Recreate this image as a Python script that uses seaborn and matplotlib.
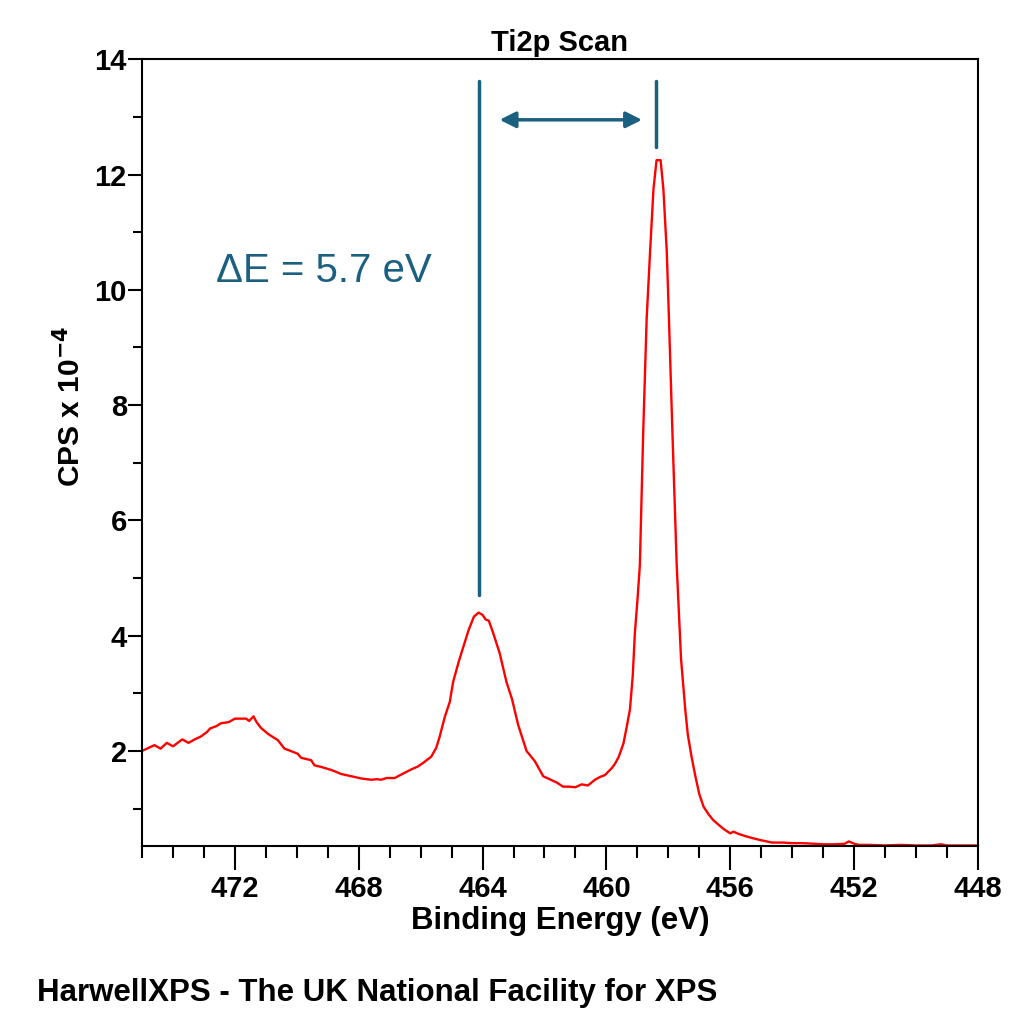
import matplotlib
matplotlib.use('Agg')
import matplotlib.pyplot as plt
import seaborn as sns
import pandas as pd
from matplotlib.ticker import MultipleLocator

# ----------------------
# Ti2p spectrum (binding energy in eV, CPS x 10^-4)
binding_energy = [
    475.0, 474.8, 474.6, 474.4, 474.2, 474.0, 473.8, 473.7, 473.5, 473.3,
    473.1, 472.9, 472.8, 472.6, 472.45, 472.2, 472.0, 471.8, 471.64, 471.54,
    471.4, 471.3, 471.16, 470.94, 470.8, 470.62, 470.4, 470.2, 469.97, 469.86,
    469.7, 469.54, 469.43, 469.2, 468.89, 468.7, 468.57, 468.4, 468.14, 467.9,
    467.6, 467.4, 467.28, 467.1, 466.84, 466.7, 466.52, 466.3, 466.09, 465.9,
    465.66, 465.5, 465.39, 465.22, 465.06, 464.95, 464.77, 464.6, 464.45, 464.28,
    464.13, 464.0, 463.9, 463.8, 463.66, 463.45, 463.23, 463.05, 462.85, 462.58,
    462.31, 462.04, 461.8, 461.6, 461.4, 461.2, 461.0, 460.8, 460.6, 460.37,
    460.2, 460.05, 459.83, 459.72, 459.6, 459.45, 459.35, 459.24, 459.15, 459.08,
    459.0, 458.92, 458.81, 458.7, 458.59, 458.48, 458.38, 458.25, 458.16, 458.05,
    457.98, 457.87, 457.73, 457.59, 457.45, 457.37, 457.25, 457.13, 457.0, 456.86,
    456.7, 456.55, 456.38, 456.2, 456.0, 455.9, 455.73, 455.5, 455.3, 455.0,
    454.65, 454.3, 454.0, 453.7, 453.3, 453.0, 452.6, 452.3, 452.17, 452.0,
    451.85, 451.5, 451.0, 450.5, 450.0, 449.5, 449.2, 449.0, 448.5, 448.0,
]
cps = [
    2.00, 2.05, 2.10, 2.04, 2.14, 2.08, 2.16, 2.20, 2.14, 2.20,
    2.25, 2.33, 2.39, 2.43, 2.48, 2.50, 2.56, 2.56, 2.56, 2.52,
    2.60, 2.50, 2.40, 2.30, 2.25, 2.19, 2.04, 2.00, 1.95, 1.88,
    1.86, 1.84, 1.75, 1.72, 1.67, 1.63, 1.60, 1.58, 1.55, 1.52,
    1.50, 1.51, 1.50, 1.53, 1.53, 1.57, 1.62, 1.68, 1.73, 1.80,
    1.90, 2.05, 2.24, 2.59, 2.85, 3.20, 3.55, 3.84, 4.10, 4.33,
    4.40, 4.36, 4.28, 4.26, 4.05, 3.70, 3.20, 2.90, 2.45, 2.00,
    1.82, 1.56, 1.50, 1.45, 1.38, 1.38, 1.37, 1.42, 1.40, 1.50,
    1.55, 1.58, 1.70, 1.78, 1.90, 2.13, 2.40, 2.72, 3.30, 4.05,
    4.60, 5.22, 7.56, 9.50, 10.66, 11.75, 12.25, 12.25, 11.75, 10.66,
    9.50, 7.56, 5.23, 3.60, 2.70, 2.28, 1.90, 1.57, 1.25, 1.03,
    0.90, 0.80, 0.72, 0.64, 0.57, 0.60, 0.56, 0.52, 0.49, 0.45,
    0.41, 0.41, 0.40, 0.40, 0.39, 0.38, 0.38, 0.39, 0.43, 0.39,
    0.37, 0.37, 0.36, 0.37, 0.36, 0.36, 0.38, 0.36, 0.36, 0.36,
]

# peak markers (eV) and the spin-orbit splitting label
peak_2p12 = 464.13
peak_2p32 = 458.41
delta_label = '\u0394E = 5.7 eV'

df = pd.DataFrame({'be': binding_energy, 'cps': cps})

# ----------------------
sns.set_style('ticks')
plt.rcParams['font.family'] = ['Liberation Sans', 'DejaVu Sans']
plt.rcParams['mathtext.default'] = 'bf'
for key in ['text.color', 'axes.labelcolor', 'xtick.color', 'ytick.color', 'axes.edgecolor']:
    plt.rcParams[key] = 'black'

blue = '#1b6080'

fig = plt.figure(figsize=(10.24, 10.24), dpi=100)
ax = fig.add_axes([0.1387, 0.1738, 0.8163, 0.7683])

sns.lineplot(data=df, x='be', y='cps', color='#ff0000', linewidth=1.7,
             estimator=None, sort=False, ax=ax)

ax.set_xlim(475, 448)
ax.set_ylim(0.35, 14)

ax.xaxis.set_major_locator(MultipleLocator(4))
ax.xaxis.set_minor_locator(MultipleLocator(1))
ax.yaxis.set_major_locator(MultipleLocator(2))
ax.yaxis.set_minor_locator(MultipleLocator(1))
ax.set_yticks([2, 4, 6, 8, 10, 12, 14])

ax.tick_params(axis='x', which='major', direction='out', length=17, width=1.5,
               labelsize=21, pad=4)
ax.tick_params(axis='x', which='minor', direction='out', length=8.5, width=1.5)
ax.tick_params(axis='y', which='major', direction='out', length=10, width=1.5,
               labelsize=21, pad=1)
ax.tick_params(axis='y', which='minor', direction='out', length=6.5, width=1.5)
for lab in ax.get_xticklabels() + ax.get_yticklabels():
    lab.set_fontweight('bold')

for s in ax.spines.values():
    s.set_visible(True)
    s.set_color('black')
    s.set_linewidth(1.5)

ax.set_xlabel('Binding Energy (eV)', fontsize=22.5, fontweight='bold', labelpad=2)
ax.set_ylabel('CPS x 10$^{-4}$', fontsize=21.5, fontweight='bold')
ax.yaxis.set_label_coords(-0.066, 0.559)
ax.set_title('Ti2p Scan', fontsize=21, fontweight='bold', pad=6)

# peak lines and splitting arrow
ax.plot([peak_2p12, peak_2p12], [4.70, 13.62], color=blue, linewidth=2.5)
ax.plot([peak_2p32, peak_2p32], [12.48, 13.62], color=blue, linewidth=2.5)
ax.annotate('', xy=(458.85, 12.95), xytext=(463.45, 12.95),
            arrowprops=dict(arrowstyle='<|-|>', color=blue, lw=2.5,
                            mutation_scale=24, shrinkA=0, shrinkB=0))
ax.text(472.6, 10.32, delta_label, color=blue, fontsize=29, va='center', ha='left')

fig.text(0.036, 0.030, 'HarwellXPS - The UK National Facility for XPS',
         fontsize=22.5, fontweight='bold', ha='left', va='center')

fig.savefig('out.png', dpi=100)
